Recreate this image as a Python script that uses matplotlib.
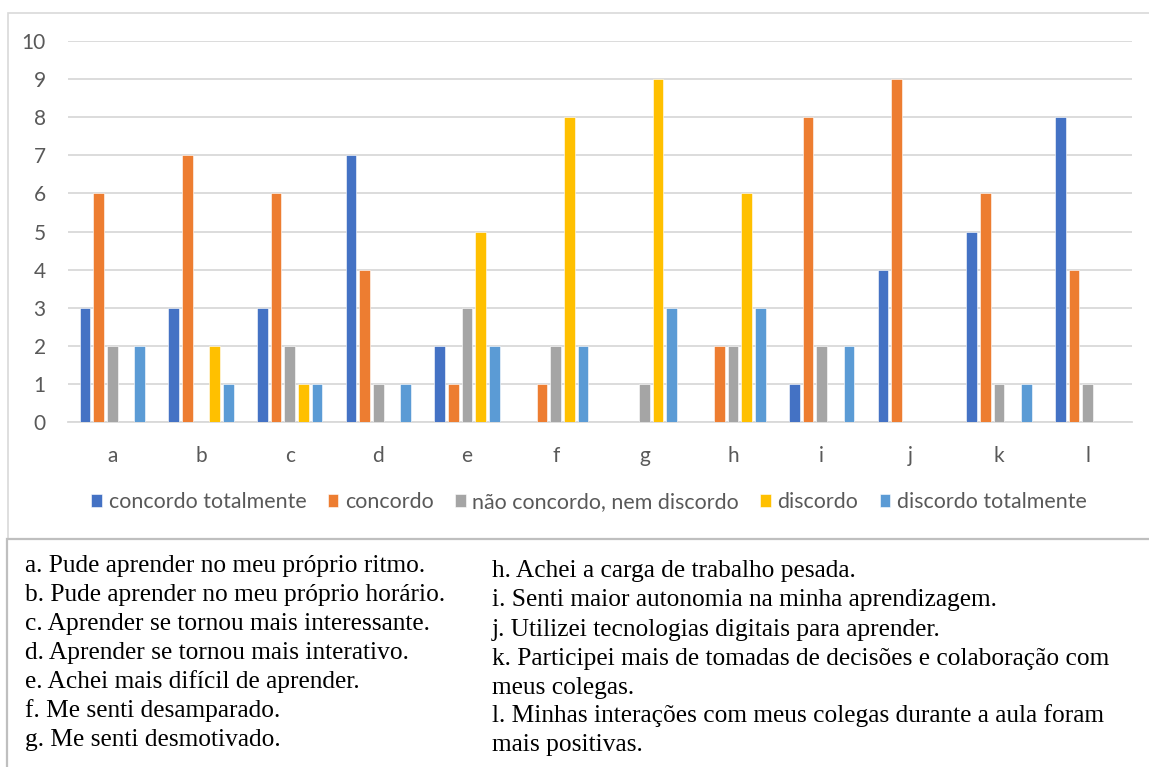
import matplotlib.pyplot as plt
from matplotlib.patches import Rectangle
import numpy as np

categories = ['a', 'b', 'c', 'd', 'e', 'f', 'g', 'h', 'i', 'j', 'k', 'l']
series_names = ['concordo totalmente', 'concordo', 'não concordo, nem discordo',
                'discordo', 'discordo totalmente']
concordo_totalmente = [3, 3, 3, 7, 2, 0, 0, 0, 1, 4, 5, 8]
concordo = [6, 7, 6, 4, 1, 1, 0, 2, 8, 9, 6, 4]
neutro = [2, 0, 2, 1, 3, 2, 1, 2, 2, 0, 1, 1]
discordo = [0, 2, 1, 0, 5, 8, 9, 6, 0, 0, 0, 0]
discordo_totalmente = [2, 1, 1, 1, 2, 2, 3, 3, 2, 0, 1, 0]
colors = ['#4472C4', '#ED7D31', '#A5A5A5', '#FFC000', '#5B9BD5']

left_notes = [
    'a. Pude aprender no meu próprio ritmo.',
    'b. Pude aprender no meu próprio horário.',
    'c. Aprender se tornou mais interessante.',
    'd. Aprender se tornou mais interativo.',
    'e. Achei mais difícil de aprender.',
    'f. Me senti desamparado.',
    'g. Me senti desmotivado.',
]
right_notes = [
    'h. Achei a carga de trabalho pesada.',
    'i. Senti maior autonomia na minha aprendizagem.',
    'j. Utilizei tecnologias digitais para aprender.',
    'k. Participei mais de tomadas de decisões e colaboração com',
    'meus colegas.',
    'l. Minhas interações com meus colegas durante a aula foram',
    'mais positivas.',
]

W, H = 1149, 767
fig = plt.figure(figsize=(W / 100, H / 100), dpi=100)
ax = fig.add_axes([68 / W, 1 - 422 / H, (1132 - 68) / W, (422 - 41) / H])

values = [concordo_totalmente, concordo, neutro, discordo, discordo_totalmente]
x = np.arange(len(categories))
step = 0.154
for i, (name, vals, c) in enumerate(zip(series_names, values, colors)):
    ax.bar(x + (i - 2) * step, vals, width=0.122, color=c, label=name,
           edgecolor='white', linewidth=0.4, zorder=3)

ax.set_xlim(-0.5, len(categories) - 0.5)
ax.set_ylim(0, 10)
ax.set_yticks(range(11))
ax.set_xticks(x)
ax.set_xticklabels(categories)
ax.grid(axis='y', color='#D9D9D9', linewidth=1.3, zorder=0)
for s in ['top', 'right', 'left']:
    ax.spines[s].set_visible(False)
ax.spines['bottom'].set_color('#D9D9D9')
ax.spines['bottom'].set_linewidth(1.3)
ax.tick_params(length=0, labelsize=15, labelcolor='#595959')
ax.tick_params(axis='y', pad=16)
ax.tick_params(axis='x', pad=17)
for t in ax.get_xticklabels() + ax.get_yticklabels():
    t.set_family('Lato')

leg = fig.legend(loc='center', bbox_to_anchor=(589 / W, 1 - 502 / H), ncol=5,
                 frameon=False, prop={'family': 'Lato', 'size': 15.4},
                 handlelength=0.5, handleheight=0.5, handletextpad=0.3,
                 columnspacing=1.0)
for t in leg.get_texts():
    t.set_color('#595959')

# chart frame and note box
fig.patches.append(Rectangle((8 / W, 1 - 539 / H), 1.0, (539 - 13) / H,
                             transform=fig.transFigure, fill=False,
                             edgecolor='#D9D9D9', linewidth=1.2))
fig.patches.append(Rectangle((7 / W, -0.01), 1.0, 1 - 539 / H + 0.01,
                             transform=fig.transFigure, fill=False,
                             edgecolor='#BFBFBF', linewidth=1.6))

left_y = [566, 595, 624, 653, 682, 711, 740]
right_y = [571, 600, 630, 659, 688, 716, 745]
for txt, y in zip(left_notes, left_y):
    fig.text(25 / W, 1 - y / H, txt, family='Liberation Serif', fontsize=18.3,
             va='center', ha='left')
for txt, y in zip(right_notes, right_y):
    fig.text(492 / W, 1 - y / H, txt, family='Liberation Serif', fontsize=18.3,
             va='center', ha='left')

fig.savefig('out.png', dpi=100)
